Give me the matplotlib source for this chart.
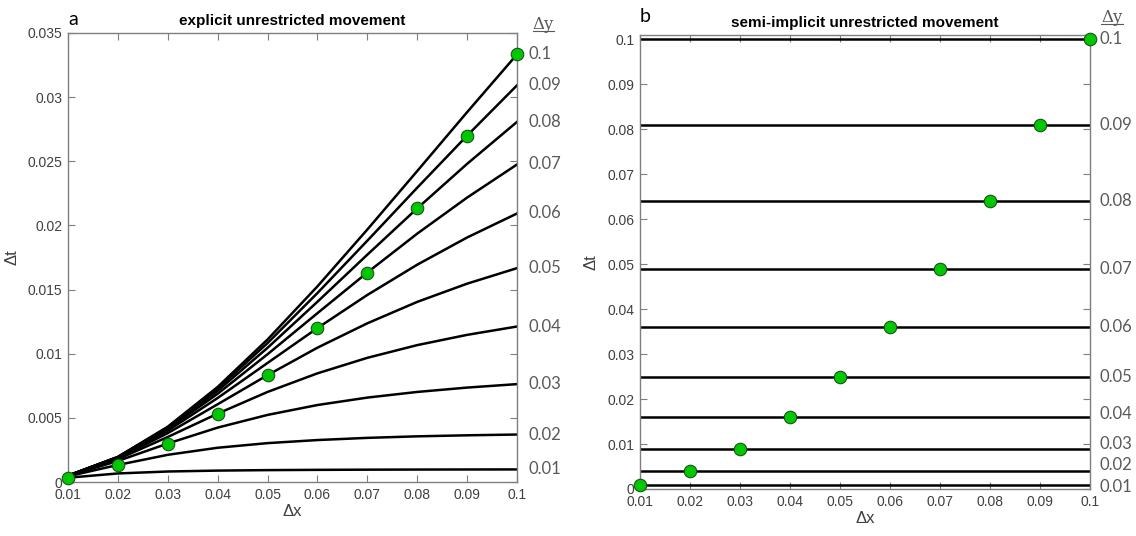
import matplotlib
matplotlib.use("Agg")
import matplotlib.pyplot as plt
from matplotlib.lines import Line2D
from matplotlib.ticker import FormatStrFormatter

# grid spacings
dx = [0.01, 0.02, 0.03, 0.04, 0.05, 0.06, 0.07, 0.08, 0.09, 0.1]
dy = [0.01, 0.02, 0.03, 0.04, 0.05, 0.06, 0.07, 0.08, 0.09, 0.1]

# explicit scheme: largest stable dt vs dx, one list per dy
dt_exp_01 = [0.000333, 0.000667, 0.000818, 0.000889, 0.000926, 0.000947, 0.000961, 0.000970, 0.000976, 0.000980]
dt_exp_02 = [0.000444, 0.00133, 0.00212, 0.00267, 0.00303, 0.00327, 0.00344, 0.00356, 0.00364, 0.00370]
dt_exp_03 = [0.000474, 0.00164, 0.00300, 0.00424, 0.00523, 0.00600, 0.00658, 0.00702, 0.00736, 0.00763]
dt_exp_04 = [0.000485, 0.00178, 0.00351, 0.00533, 0.00702, 0.00847, 0.00968, 0.01067, 0.01147, 0.01212]
dt_exp_05 = [0.000490, 0.00185, 0.00381, 0.00606, 0.00833, 0.01047, 0.01237, 0.01404, 0.01546, 0.01667]
dt_exp_06 = [0.000493, 0.00189, 0.00400, 0.00655, 0.00928, 0.01200, 0.01458, 0.01694, 0.01906, 0.02093]
dt_exp_07 = [0.000495, 0.00192, 0.00412, 0.00688, 0.00996, 0.01316, 0.01633, 0.01936, 0.02217, 0.02475]
dt_exp_08 = [0.000496, 0.00194, 0.00420, 0.00711, 0.01046, 0.01405, 0.01772, 0.02133, 0.02480, 0.02807]
dt_exp_09 = [0.000497, 0.00195, 0.00426, 0.00728, 0.01083, 0.01473, 0.01881, 0.02294, 0.02700, 0.03092]
dt_exp_10 = [0.000498, 0.00196, 0.00431, 0.00741, 0.01111, 0.01525, 0.01968, 0.02424, 0.02883, 0.03333]

# semi-implicit scheme: dt only depends on dy
dt_semi = [0.001, 0.004, 0.009, 0.016, 0.025, 0.036, 0.049, 0.064, 0.081, 0.1]

dt_exp = [dt_exp_01, dt_exp_02, dt_exp_03, dt_exp_04, dt_exp_05,
          dt_exp_06, dt_exp_07, dt_exp_08, dt_exp_09, dt_exp_10]
dy_labels = ['%g' % v for v in dy]

GRAY = '#404040'
LGRAY = '#595959'
GREEN = '#00c800'

plt.rcParams['font.family'] = ['Liberation Sans', 'DejaVu Sans']

fig = plt.figure(figsize=(11.36, 5.36), dpi=100)
axa = fig.add_axes([68/1136, 54/536, 449/1136, 449/536])
axb = fig.add_axes([640/1136, 47/536, 450/1136, 454/536])


def style(ax):
    for s in ax.spines.values():
        s.set_color('#7f7f7f')
        s.set_linewidth(1.0)
    ax.tick_params(direction='in', length=5, width=0.8, color='#7f7f7f',
                   labelsize=10, labelcolor=GRAY, top=True, right=True, pad=4)
    ax.set_xlim(0.01, 0.1)
    ax.set_xticks(dx)
    ax.xaxis.set_major_formatter(FormatStrFormatter('%g'))
    ax.yaxis.set_major_formatter(FormatStrFormatter('%g'))
    ax.set_xlabel('Δx', fontsize=12, color=GRAY, labelpad=2)
    ax.set_ylabel('Δt', fontsize=12, color=GRAY, labelpad=6)


def dy_header(ax, xa, ya):
    # underlined "Δy" heading over the label column
    t = ax.text(xa, ya, 'Δy', transform=ax.transAxes, fontsize=12, color=LGRAY,
                family=['DejaVu Serif'], ha='left', va='bottom')
    fig.canvas.draw()
    bb = t.get_window_extent().transformed(fig.transFigure.inverted())
    fig.add_artist(Line2D([bb.x0, bb.x1], [bb.y0 + 0.004, bb.y0 + 0.004],
                          transform=fig.transFigure, color=LGRAY, lw=0.8))


# (a) explicit
for row in dt_exp:
    axa.plot(dx, row, color='black', lw=1.8, zorder=2)
diag = [dt_exp[i][i] for i in range(len(dy))]
axa.plot(dy, diag, 'o', ms=9, mfc=GREEN, mec='#1f4f1f', mew=0.8, zorder=3, clip_on=False)
style(axa)
axa.set_ylim(0, 0.035)
axa.set_yticks([0, 0.005, 0.01, 0.015, 0.02, 0.025, 0.03, 0.035])
for row, lab in zip(dt_exp, dy_labels):
    axa.annotate(lab, (dx[-1], row[-1]), xytext=(8, 0), textcoords='offset points',
                 va='center', ha='left', fontsize=12, color=LGRAY, family=['Lato', 'DejaVu Sans'],
                 annotation_clip=False)
axa.set_title('explicit unrestricted movement', fontsize=11, fontweight='bold', pad=6)
axa.text(0.0, 1.012, 'a', transform=axa.transAxes, fontsize=14, color='black',
         family=['Lato', 'DejaVu Sans'], ha='left', va='bottom')

# (b) semi-implicit
for v in dt_semi:
    axb.plot(dx, [v] * len(dx), color='black', lw=1.8, zorder=2)
axb.plot(dy, dt_semi, 'o', ms=9, mfc=GREEN, mec='#1f4f1f', mew=0.8, zorder=3, clip_on=False)
style(axb)
axb.set_ylim(0, 0.101)
axb.set_yticks([0, 0.01, 0.02, 0.03, 0.04, 0.05, 0.06, 0.07, 0.08, 0.09, 0.1])
# bottom labels are nudged apart so they do not overlap
nudge = {0: -2, 1: 4.5, 2: 3.5, 3: 2}
for i, (v, lab) in enumerate(zip(dt_semi, dy_labels)):
    axb.annotate(lab, (dx[-1], v), xytext=(7, nudge.get(i, 0)), textcoords='offset points',
                 va='center', ha='left', fontsize=12, color=LGRAY, family=['Lato', 'DejaVu Sans'],
                 annotation_clip=False)
axb.set_title('semi-implicit unrestricted movement', fontsize=11, fontweight='bold', pad=6)
axb.text(0.0, 1.022, 'b', transform=axb.transAxes, fontsize=14, color='black',
         family=['Lato', 'DejaVu Sans'], ha='left', va='bottom')

dy_header(axa, 1.035, 1.0)
dy_header(axb, 1.025, 1.02)

fig.savefig('out.png', dpi=100)
